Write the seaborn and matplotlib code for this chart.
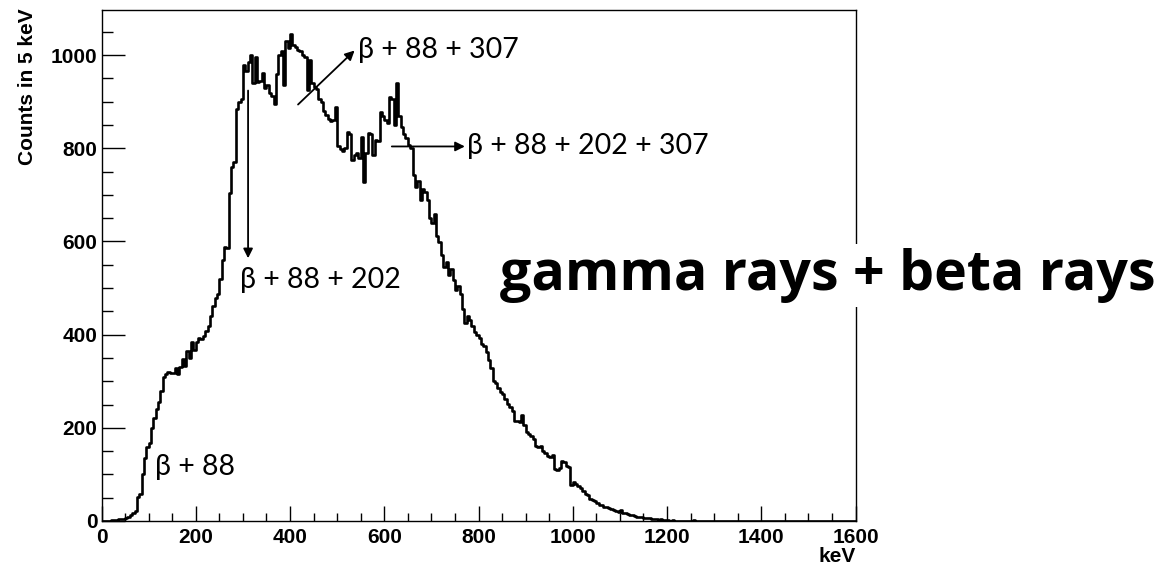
import numpy as np
import matplotlib
matplotlib.use("Agg")
import matplotlib.pyplot as plt
import seaborn as sns

# Histogram: counts per 5 keV bin, 0 - 1600 keV
bin_width_kev = 5
counts = [
    0, 0, 0, 0, 2, 3, 3, 4, 4, 5,
    6, 9, 12, 18, 22, 52, 58, 100, 135, 158,
    168, 200, 222, 240, 255, 280, 310, 316, 320, 318,
    318, 328, 315, 330, 348, 332, 365, 350, 384, 368,
    385, 392, 390, 398, 408, 418, 440, 462, 478, 488,
    520, 560, 588, 585, 705, 760, 770, 885, 900, 905,
    978, 965, 985, 1000, 940, 995, 942, 945, 962, 930,
    935, 918, 912, 895, 960, 1000, 1008, 935, 1030, 1015,
    1045, 1022, 1018, 1012, 1008, 1000, 995, 925, 990, 940,
    932, 928, 905, 900, 880, 872, 862, 858, 860, 888,
    805, 798, 795, 800, 835, 830, 775, 785, 790, 780,
    825, 728, 789, 832, 830, 785, 818, 815, 878, 870,
    860, 855, 910, 905, 850, 940, 870, 846, 830, 822,
    808, 800, 742, 717, 730, 690, 712, 706, 690, 650,
    640, 660, 612, 598, 570, 545, 555, 528, 540, 518,
    495, 505, 488, 455, 425, 440, 432, 418, 405, 400,
    392, 380, 375, 362, 345, 328, 300, 296, 285, 276,
    272, 262, 252, 244, 236, 215, 214, 212, 228, 205,
    192, 186, 182, 175, 162, 158, 160, 150, 145, 140,
    138, 142, 112, 110, 114, 128, 126, 118, 115, 78,
    84, 80, 76, 70, 64, 58, 55, 48, 46, 42,
    39, 35, 34, 31, 30, 27, 26, 24, 21, 20,
    24, 18, 17, 16, 13, 12, 10, 9, 8, 8,
    7, 6, 7, 5, 5, 4, 3, 4, 3, 2,
    2, 1, 2, 1, 1, 0, 1, 0, 0, 1,
    1, 2, 0, 0, 0, 0, 1, 0, 0, 1,
    0, 0, 0, 0, 0, 0, 0, 0, 0, 0,
    0, 0, 0, 0, 0, 0, 0, 0, 0, 0,
    0, 0, 0, 0, 0, 0, 0, 0, 1, 0,
    0, 0, 0, 0, 0, 0, 1, 1, 0, 0,
    0, 0, 0, 0, 0, 0, 0, 0, 0, 0,
    0, 0, 0, 0, 0, 0, 0, 0, 0, 0,
]
bin_centers = np.arange(len(counts)) * bin_width_kev + bin_width_kev / 2

peak_labels = ["β + 88 + 307", "β + 88 + 202 + 307", "β + 88 + 202", "β + 88"]
x_ticks = [0, 200, 400, 600, 800, 1000, 1200, 1400, 1600]
y_ticks = [0, 200, 400, 600, 800, 1000]

sns.set_style("ticks")
plt.rcParams['font.family'] = ['Liberation Sans', 'DejaVu Sans']
plt.rcParams['text.color'] = 'black'
plt.rcParams['xtick.color'] = 'black'
plt.rcParams['ytick.color'] = 'black'
plt.rcParams['axes.labelcolor'] = 'black'

fig = plt.figure(figsize=(11.75, 5.73), dpi=100)
ax = fig.add_axes([0.0864, 0.0908, 0.6417, 0.8918])

sns.histplot(x=bin_centers, weights=counts, binwidth=bin_width_kev, binrange=(0, 1600),
             element="step", fill=False, color="black", linewidth=1.9, ax=ax)

ax.set_xlim(0, 1600)
ax.set_ylim(0, 1097)
ax.set_xticks(x_ticks)
ax.set_yticks(y_ticks)
ax.set_xticks(np.arange(0, 1601, 50), minor=True)
ax.set_yticks(np.arange(0, 1097, 50), minor=True)
ax.tick_params(axis='both', which='both', bottom=True, left=True, top=False, right=False)
ax.tick_params(axis='x', which='major', direction='in', length=11, width=1, pad=5)
ax.tick_params(axis='x', which='minor', direction='in', length=5.5, width=1)
ax.tick_params(axis='y', which='major', direction='in', length=16.3, width=1, pad=3)
ax.tick_params(axis='y', which='minor', direction='in', length=8.1, width=1)
for lab in ax.get_xticklabels() + ax.get_yticklabels():
    lab.set_fontweight('bold')
    lab.set_fontsize(15)
for sp in ax.spines.values():
    sp.set_visible(True)
    sp.set_color('black')
    sp.set_linewidth(1.0)

ax.set_ylabel('Counts in 5 keV', fontsize=15, fontweight='bold', loc='top')
ax.yaxis.set_label_coords(-0.086, 1.004)
ax.set_xlabel('keV', fontsize=15, fontweight='bold', loc='right')
ax.xaxis.set_label_coords(1.0, -0.05)

ann_font = dict(fontsize=20.5, family=['Lato', 'DejaVu Sans'], color='black')
arrow = dict(arrowstyle='-|>', color='black', lw=1.3, mutation_scale=14, shrinkA=0, shrinkB=0)
ax.annotate('', xy=(537, 1010), xytext=(417, 894), arrowprops=arrow)
ax.text(545, 1010, peak_labels[0], va='center', ha='left', **ann_font)
ax.annotate('', xy=(771, 804), xytext=(616, 804), arrowprops=arrow)
ax.text(776, 804, peak_labels[1], va='center', ha='left', **ann_font)
ax.annotate('', xy=(311, 564), xytext=(311, 924), arrowprops=arrow)
ax.text(293, 517, peak_labels[2], va='center', ha='left', **ann_font)
ax.text(113, 116, peak_labels[3], va='center', ha='left', **ann_font)

fig.text(0.4255, 0.519, 'gamma rays + beta rays', fontsize=40, fontweight='bold',
         family=['Open Sans', 'DejaVu Sans'], va='center', ha='left',
         bbox=dict(facecolor='white', edgecolor='none', pad=3), zorder=10)

fig.savefig('out.png', dpi=100)
plt.close(fig)
